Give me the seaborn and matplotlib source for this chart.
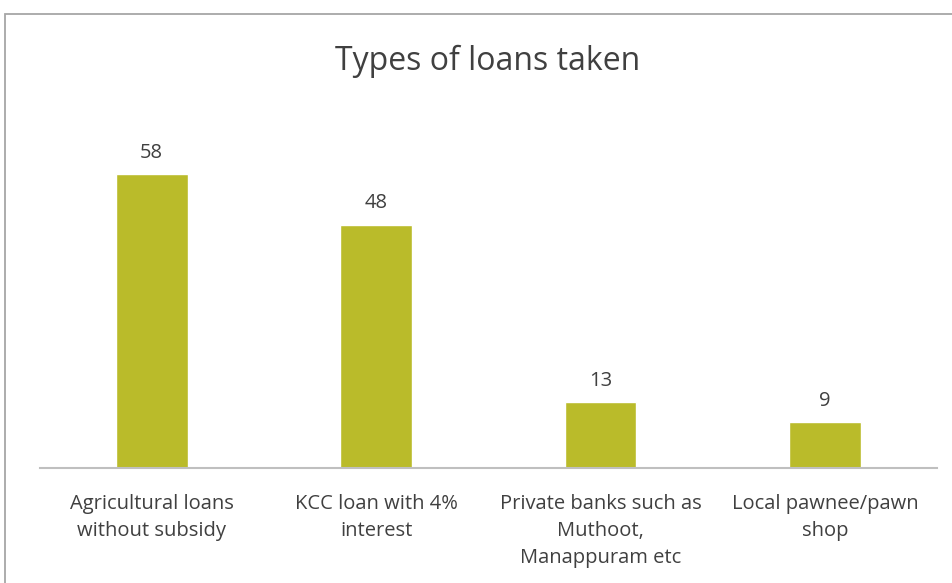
import matplotlib
matplotlib.use("Agg")
import matplotlib.pyplot as plt
import seaborn as sns
import pandas as pd
from matplotlib.patches import Rectangle

categories = [
    "Agricultural loans\nwithout subsidy",
    "KCC loan with 4%\ninterest",
    "Private banks such as\nMuthoot,\nManappuram etc",
    "Local pawnee/pawn\nshop",
]
counts = [58, 48, 13, 9]
title = "Types of loans taken"

sns.set_theme(style="white")
plt.rcParams["font.family"] = ["Open Sans", "DejaVu Sans"]

W, H = 952, 583
fig = plt.figure(figsize=(W / 100, H / 100), dpi=100)
fig.patch.set_facecolor("white")

# outer chart frame (top and left edges visible)
fig.add_artist(Rectangle((5 / W, -0.1), 1.2, (H - 14) / H + 0.1,
                         transform=fig.transFigure, fill=False,
                         edgecolor="#a6a6a6", linewidth=1.3))

left, right = 39.5 / W, 937 / W
bottom = (H - 468) / H
top = (H - 113) / H
ax = fig.add_axes([left, bottom, right - left, top - bottom])

df = pd.DataFrame({"category": categories, "count": counts})
sns.barplot(data=df, x="category", y="count", color="#BABB2A",
            saturation=1, width=0.32, ax=ax)

ax.set_ylim(0, 70)
ax.set_xlim(-0.5, len(categories) - 0.5)
for s in ["top", "right", "left"]:
    ax.spines[s].set_visible(False)
ax.spines["bottom"].set_color("#bfbfbf")
ax.spines["bottom"].set_linewidth(1.5)
ax.set_yticks([])
ax.set_xlabel("")
ax.set_ylabel("")
ax.tick_params(axis="x", length=0, pad=19, labelsize=14.5, colors="#404040")
for lbl in ax.get_xticklabels():
    lbl.set_linespacing(1.45)
    lbl.set_verticalalignment("top")

for container in ax.containers:
    ax.bar_label(container, labels=[str(v) for v in counts], padding=8,
                 fontsize=14.5, color="#404040")

fig.text((336 + 640) / 2 / W, (H - 61) / H, title, ha="center", va="center",
         fontsize=23, color="#404040")

fig.savefig("out.png", dpi=100, facecolor="white")
